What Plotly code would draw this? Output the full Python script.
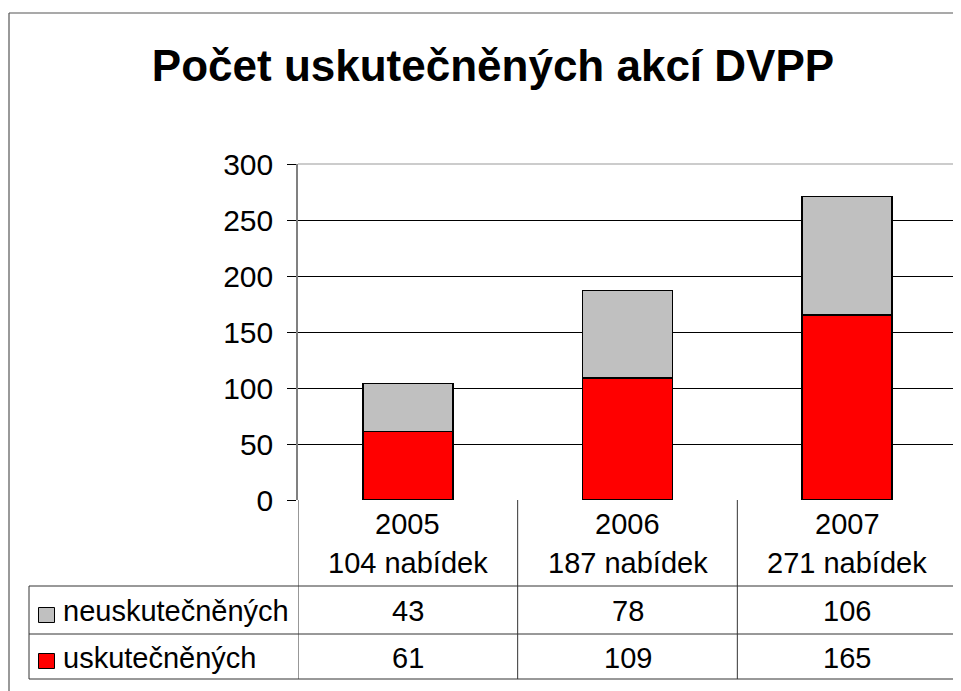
import plotly.graph_objects as go

# ---- data ----
years = ["2005", "2006", "2007"]
offers = [104, 187, 271]
realized = [61, 109, 165]          # uskutečněných
not_realized = [43, 78, 106]       # neuskutečněných
series_names = ["neuskutečněných", "uskutečněných"]
title_text = "Počet uskutečněných akcí DVPP"
y_ticks = [0, 50, 100, 150, 200, 250, 300]

OFF = 8                            # page body margin in the browser
W, H = 961 - OFF, 691 - OFF
L, R, T, B = 298 - OFF, 957 - OFF, 164 - OFF, 500 - OFF   # plot area in figure pixels
FONT = "Liberation Sans, Arial, sans-serif"

def px(x):
    """reference screenshot x pixel -> paper x"""
    return (x - OFF - L) / (R - L)

def py(y):
    """reference screenshot y pixel -> paper y"""
    return (B - (y - OFF)) / (B - T)

fig = go.Figure()
fig.add_trace(go.Bar(x=years, y=realized, name=series_names[1],
                     marker=dict(color="#FF0000", line=dict(color="#000000", width=1.5)),
                     width=0.41))
fig.add_trace(go.Bar(x=years, y=not_realized, name=series_names[0],
                     marker=dict(color="#C0C0C0", line=dict(color="#000000", width=1.5)),
                     width=0.41))

shapes = []
line_c = "#333333"
# outer border (left + top, extending off page)
shapes.append(dict(type="line", xref="paper", yref="paper", x0=px(9), x1=px(980), y0=py(13), y1=py(13),
                   line=dict(color="#555555", width=1.2)))
shapes.append(dict(type="line", xref="paper", yref="paper", x0=px(9), x1=px(9), y0=py(13), y1=py(710),
                   line=dict(color="#555555", width=1.2)))
# plot area border top/right
shapes.append(dict(type="line", xref="paper", yref="paper", x0=0, x1=1, y0=1, y1=1,
                   line=dict(color="#999999", width=1.2)))
shapes.append(dict(type="line", xref="paper", yref="paper", x0=1, x1=1, y0=0, y1=1,
                   line=dict(color="#999999", width=1.2)))
# table horizontal lines
for yy in [586, 634, 679]:
    shapes.append(dict(type="line", xref="paper", yref="paper", x0=px(29), x1=1, y0=py(yy), y1=py(yy),
                       line=dict(color=line_c, width=1)))
# table vertical lines at category boundaries
for xb in [-0.5, 0.5, 1.5, 2.5]:
    shapes.append(dict(type="line", xref="x", yref="paper", x0=xb, x1=xb, y0=0, y1=py(679),
                       line=dict(color=line_c, width=1)))
shapes.append(dict(type="line", xref="paper", yref="paper", x0=px(29), x1=px(29), y0=py(586), y1=py(679),
                   line=dict(color=line_c, width=1)))
# legend keys in table
key_colors = ["#C0C0C0", "#FF0000"]
row_centers = [611, 658]
key_centers = [615, 661]
for c, yc in zip(key_colors, key_centers):
    shapes.append(dict(type="rect", xref="paper", yref="paper", x0=px(38.5), x1=px(54.5),
                       y0=py(yc - 7.5), y1=py(yc + 7.5), fillcolor=c, line=dict(color="#000000", width=1)))

TS = 29
annotations = []
# header row: year + offers
for i, (yr, of) in enumerate(zip(years, offers)):
    annotations.append(dict(x=i, xref="x", y=py(524), yref="paper", text=yr, showarrow=False,
                            font=dict(size=TS, color="#000000", family=FONT), yanchor="middle"))
    annotations.append(dict(x=i, xref="x", y=py(563), yref="paper", text=f"{of} nabídek", showarrow=False,
                            font=dict(size=TS, color="#000000", family=FONT), yanchor="middle"))
# value rows
rows = [not_realized, realized]
for vals, yc, name in zip(rows, row_centers, series_names):
    for i, v in enumerate(vals):
        annotations.append(dict(x=i, xref="x", y=py(yc), yref="paper", text=str(v), showarrow=False,
                                font=dict(size=TS, color="#000000", family=FONT), yanchor="middle"))
    annotations.append(dict(x=px(61), xref="paper", y=py(yc), yref="paper", text=name, showarrow=False,
                            xanchor="left", yanchor="middle",
                            font=dict(size=TS, color="#000000", family=FONT)))

fig.update_layout(
    barmode="stack",
    width=W, height=H,
    margin=dict(l=L, r=W - R, t=T, b=H - B, pad=0),
    paper_bgcolor="white", plot_bgcolor="white",
    showlegend=False,
    title=dict(text=title_text, x=(493 - OFF) / W, xanchor="center", y=1 - (66 - OFF) / H, yanchor="middle",
               font=dict(size=44, color="#000000", family=FONT, weight="bold")),
    xaxis=dict(type="category", range=[-0.5, 2.5], showticklabels=False, showgrid=False,
               zeroline=False, showline=False, ticks=""),
    yaxis=dict(range=[0, 300], tickvals=y_ticks, showgrid=True, gridcolor="#000000", gridwidth=1,
               zeroline=False, showline=True, linecolor="#808080", linewidth=1.5,
               ticks="outside", ticklen=9, tickcolor="#000000", tickwidth=1,
               ticklabelstandoff=8,
               tickfont=dict(size=30, color="#000000", family=FONT)),
    shapes=shapes,
    annotations=annotations,
)

fig.write_html("out.html")
